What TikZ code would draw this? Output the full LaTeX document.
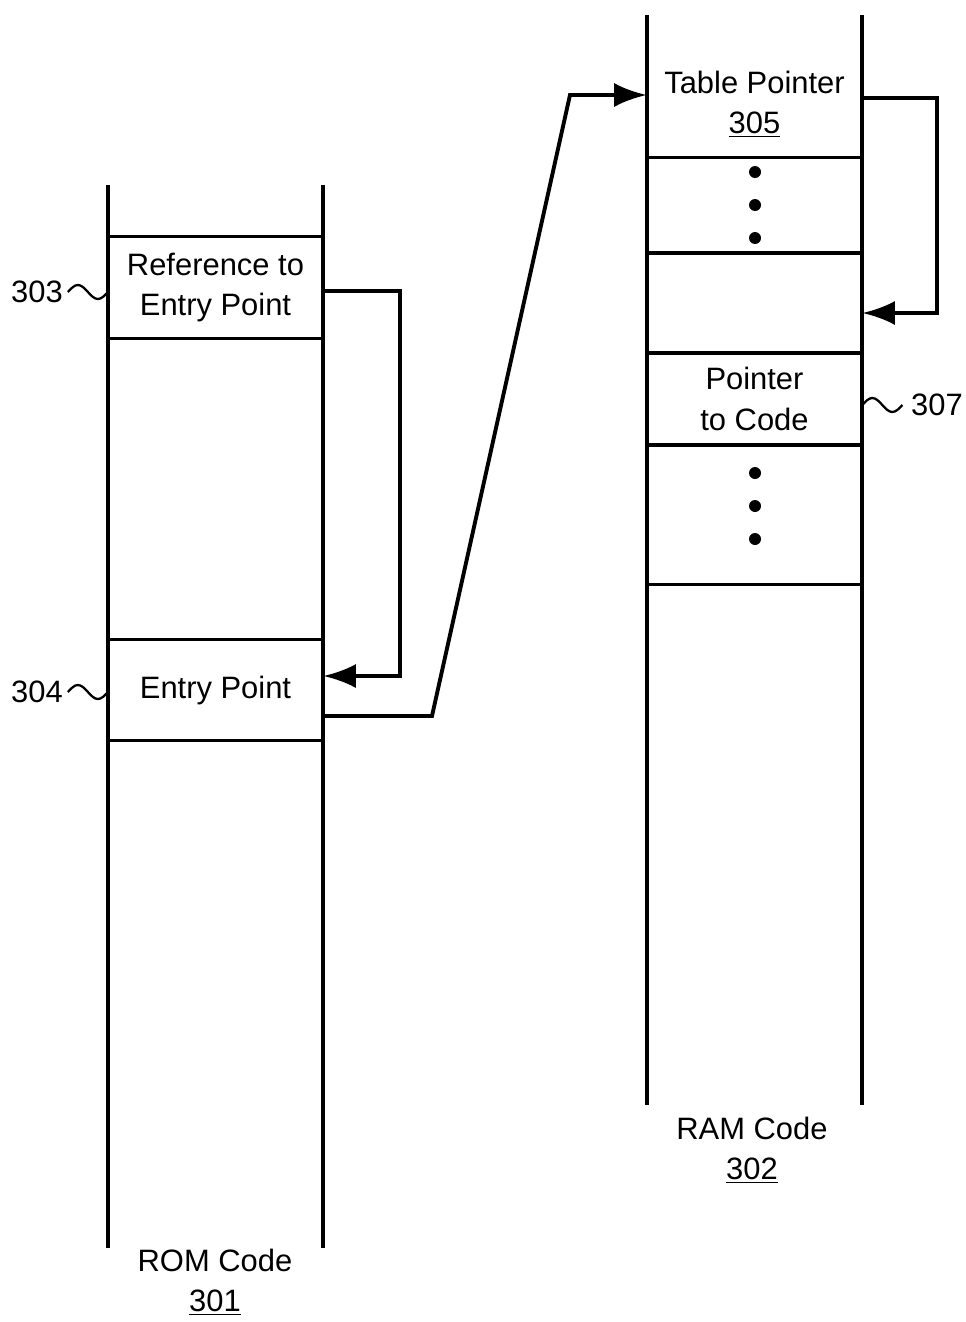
\documentclass[tikz,border=0pt]{standalone}
\usepackage{fontspec}
\setmainfont{Liberation Sans}
\usetikzlibrary{arrows.meta}

\tikzset{memLine/.style={line width=1.8pt},
 memCell/.style={inner sep=0pt,minimum width=4.3cm,align=center,font=\fontsize{17.6}{23}\selectfont},
 memText/.style={inner sep=1pt,align=center,font=\fontsize{17.6}{23}\selectfont},
 memArrow/.style={line width=2.2pt,-{Latex[length=6.5mm,width=4.8mm]}},
 memTilde/.style={line width=1.3pt},
 memDot/.style={circle,fill=black,inner sep=0pt,minimum size=2.4mm}}

\begin{document}
\begin{tikzpicture}[x=0.02cm,y=-0.02cm]
\useasboundingbox (0,0) rectangle (966,1322);
% columns
\draw[memLine] (108,185) -- (108,1248) (323,185) -- (323,1248);
\draw[memLine] (647,15) -- (647,1105) (862,15) -- (862,1105);
% ROM cells
\node[memCell,minimum height=2.02cm] (ref) at (215.5,287.5) {Reference to\\Entry Point};
\node[memCell,minimum height=2cm] (entry) at (215.5,690) {Entry Point};
\foreach \c in {ref,entry}{
\draw[memLine] (\c.north west)--(\c.north east) (\c.south west)--(\c.south east);}
% RAM cells
\node[memCell] (tabptr) at (754.5,104) {Table Pointer\\\underline{305}};
\node[memCell,minimum height=1.9cm] (gap1) at (754.5,205.5) {};
\node[memCell,minimum height=2cm] (slot) at (754.5,303) {};
\node[memCell,minimum height=1.84cm] (ptr) at (754.5,399) {Pointer\\to Code};
\node[memCell,minimum height=2.78cm] (gap2) at (754.5,514.5) {};
\foreach \c in {gap1,slot,ptr,gap2}{
\draw[memLine] (\c.north west)--(\c.north east) (\c.south west)--(\c.south east);}
\foreach \n/\yy in {a/172,b/205,c/238}{\node[memDot] (dotA\n) at (755,\yy) {};}
\foreach \n/\yy in {a/473,b/506,c/539}{\node[memDot] (dotB\n) at (755,\yy) {};}
% reference numerals
\node[memText] (n303) at (37,292) {303};
\node[memText] (n304) at (37,692) {304};
\node[memText] (n307) at (937,405) {307};
\draw[memTilde] ([xshift=0.06cm]n303.east) sin ++(10,-7) cos ++(10,7) sin ++(10,7) cos ++(10,-7);
\draw[memTilde] ([xshift=0.06cm]n304.east) sin ++(10,-7) cos ++(10,7) sin ++(10,7) cos ++(10,-7);
\draw[memTilde] ([yshift=-0.12cm]ptr.east) sin ++(10,-7) cos ++(10,7) sin ++(10,7) cos ++(10,-7);
\node[memText] (romlbl) at (215,1282) {ROM Code\\\underline{301}};
\node[memText] (ramlbl) at (752,1150) {RAM Code\\\underline{302}};
% pointers
\draw[memArrow] ([yshift=-0.07cm]ref.east) -- ++(77,0) |- ([yshift=0.28cm]entry.east);
\draw[memArrow] ([yshift=-0.52cm]entry.east) -- (432,716) -- (570,95) -- ([yshift=0.18cm]tabptr.west);
\draw[memArrow] ([yshift=0.12cm]tabptr.east) -- ++(75,0) |- ([yshift=-0.2cm]slot.east);
\end{tikzpicture}
\end{document}
